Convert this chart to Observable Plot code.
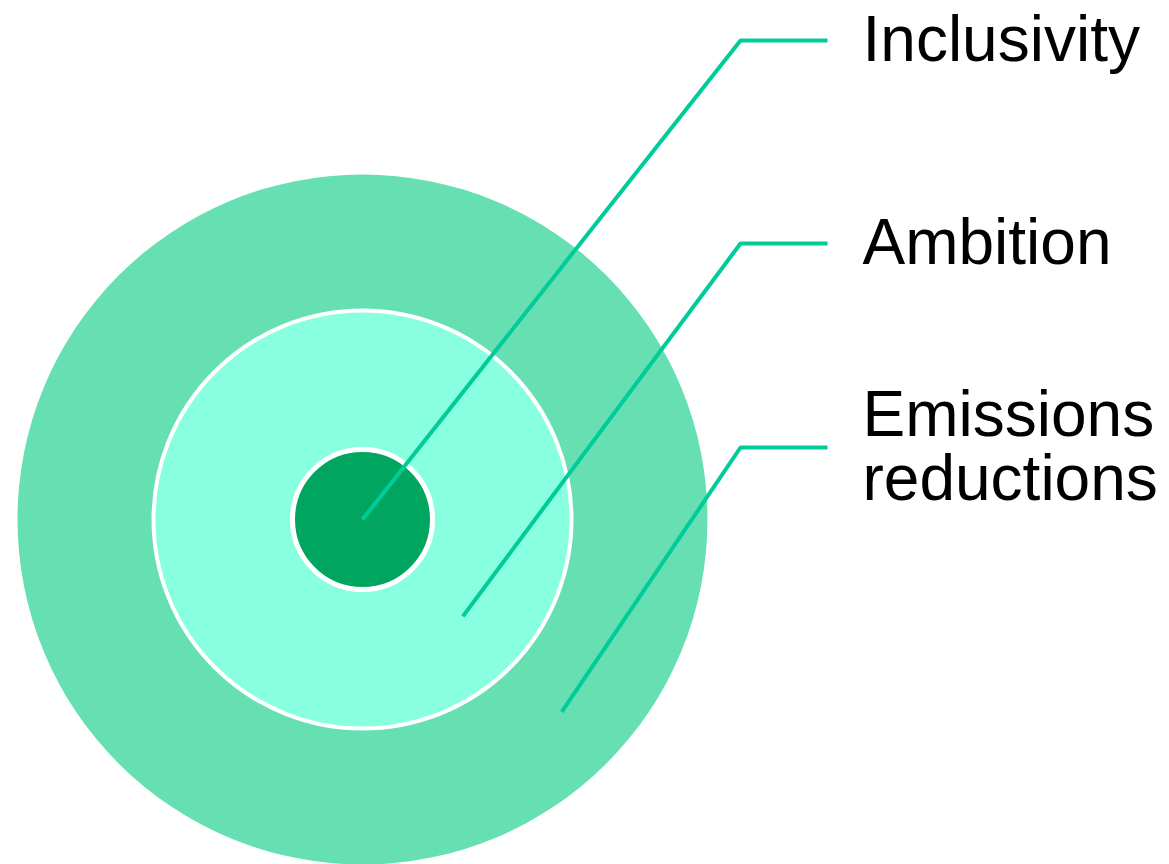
<!DOCTYPE html>
<html><head><meta charset="utf-8">
<script src="https://cdn.jsdelivr.net/npm/d3@7"></script>
<script src="https://cdn.jsdelivr.net/npm/@observablehq/plot@0.6"></script>
<style>html,body{margin:0;padding:0;background:#fff;}</style>
</head><body><div id="chart"></div>
<script>
// Layers, outer → inner
const layers = ["Emissions reductions", "Ambition", "Inclusivity"];
const radii = [345, 209, 70];
const layerColors = ["#66dfb2", "#88ffdf", "#00a660"];
const ringStroke = [0, 4, 5];
// Labels (top → bottom) and the layer each one points to
const labels = ["Inclusivity", "Ambition", "Emissions\nreductions"];
const labelLayer = ["Inclusivity", "Ambition", "Emissions reductions"];
const leaderColor = "#00cc99";

const W = 1169, H = 864;
const cx = 362, cy = 519;
const angle = 44 * Math.PI / 180;
const elbowX = 378, endX = 465, textX = 500;
const labelY = [-479, -276, -72];

const rings = layers.map((name, i) => ({name, r: radii[i], color: layerColors[i], sw: ringStroke[i]}));

function anchorR(name) {
  const i = layers.indexOf(name);
  const inner = i + 1 < radii.length ? radii[i + 1] : 0;
  return i === layers.length - 1 ? 0 : (radii[i] + inner) / 2;
}
const leaders = [];
labels.forEach((lab, k) => {
  const ar = anchorR(labelLayer[k]);
  leaders.push({k, x: ar * Math.cos(angle), y: ar * Math.sin(angle)});
  leaders.push({k, x: elbowX, y: labelY[k]});
  leaders.push({k, x: endX, y: labelY[k]});
});
const texts = labels.map((t, k) => ({t, x: textX, y: labelY[k]}));

const chart = Plot.plot({
  width: W, height: H,
  margin: 0,
  x: {domain: [-cx, W - cx], range: [0, W], axis: null},
  y: {domain: [-cy, H - cy], range: [0, H], axis: null},
  r: {type: "identity"},
  style: {fontFamily: "'Liberation Sans', Arial, sans-serif", background: "#fff"},
  marks: [
    Plot.dot(rings.slice(0, 1), {x: () => 0, y: () => 0, r: d => d.r, fill: d => d.color, stroke: "none"}),
    Plot.dot(rings.slice(1, 2), {x: () => 0, y: () => 0, r: d => d.r, fill: d => d.color, stroke: "#fff", strokeWidth: 4}),
    Plot.dot(rings.slice(2, 3), {x: () => 0, y: () => 0, r: d => d.r, fill: d => d.color, stroke: "#fff", strokeWidth: 5}),
    Plot.line(leaders, {x: "x", y: "y", z: "k", stroke: leaderColor, strokeWidth: 4, strokeLinejoin: "miter", strokeLinecap: "butt", curve: "linear"}),
    Plot.text(texts, {x: "x", y: "y", text: "t", textAnchor: "start", lineAnchor: "middle", lineHeight: 1, fontSize: 64, fill: "#000"})
  ]
});
chart.setAttribute("style", (chart.getAttribute("style")||"") + ";display:block");
document.getElementById("chart").appendChild(chart);
</script>
</body></html>
